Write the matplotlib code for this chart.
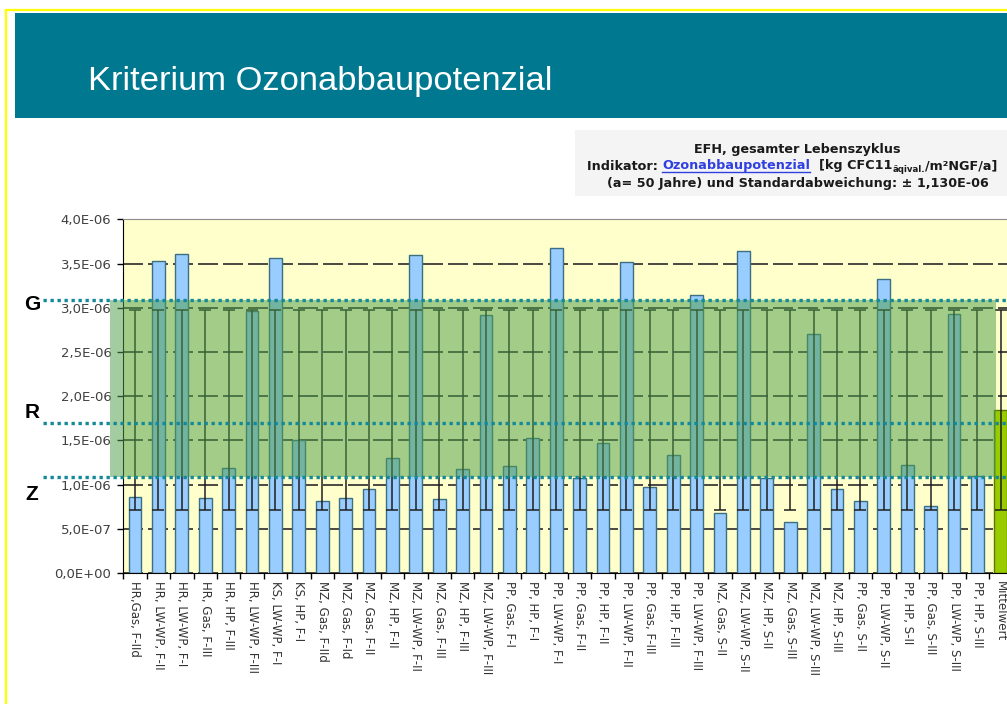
import matplotlib
matplotlib.use('Agg')
import matplotlib.pyplot as plt
import matplotlib.transforms as mtransforms
from matplotlib.patches import Rectangle
from matplotlib.lines import Line2D
from matplotlib.ticker import FuncFormatter, MultipleLocator

# Werte in 1E-06 kg CFC11-Äquivalent / m²NGF / a
categories = [
    "HR,Gas, F-IId", "HR, LW-WP, F-II", "HR, LW-WP, F-I", "HR, Gas, F-III",
    "HR, HP, F-III", "HR, LW-WP, F-III", "KS, LW-WP, F-I", "KS, HP, F-I",
    "MZ, Gas, F-IId", "MZ, Gas, F-Id", "MZ, Gas, F-II", "MZ, HP, F-II",
    "MZ, LW-WP, F-II", "MZ, Gas, F-III", "MZ, HP, F-III", "MZ, LW-WP, F-III",
    "PP, Gas, F-I", "PP, HP, F-I", "PP, LW-WP, F-I", "PP, Gas, F-II",
    "PP, HP, F-II", "PP, LW-WP, F-II", "PP, Gas, F-III", "PP, HP, F-III",
    "PP, LW-WP, F-III", "MZ, Gas, S-II", "MZ, LW-WP, S-II", "MZ, HP, S-II",
    "MZ, Gas, S-III", "MZ, LW-WP, S-III", "MZ, HP, S-III", "PP, Gas, S-II",
    "PP, LW-WP, S-II", "PP, HP, S-II", "PP, Gas, S-III", "PP, LW-WP, S-III",
    "PP, HP, S-III", "Mittelwert",
]
values = [
    0.86, 3.53, 3.61, 0.85, 1.19, 2.96, 3.56, 1.50,
    0.81, 0.85, 0.95, 1.30, 3.60, 0.84, 1.18, 2.92,
    1.21, 1.53, 3.68, 1.07, 1.47, 3.52, 0.97, 1.33,
    3.14, 0.68, 3.64, 1.07, 0.58, 2.70, 0.95, 0.81,
    3.32, 1.22, 0.76, 2.93, 1.10, 1.84,
]
std_dev = 1.13
# Grenzwerte der Bewertung (G, R, Z)
limit_names = ["G", "R", "Z"]
limit_values = [3.09, 1.70, 1.086]
SCALE = 1e-6

W, H = 1007, 704
fig = plt.figure(figsize=(W / 100, H / 100), dpi=100)
fig.patch.set_facecolor('white')


def fx(px):
    return px / W


def fy(py):
    return 1 - py / H


# slide frame + header
fig.add_artist(Rectangle((fx(15), fy(118)), fx(1007) - fx(15), fy(13) - fy(118),
                         transform=fig.transFigure, facecolor='#00788F',
                         edgecolor='none', zorder=0))
fig.add_artist(Line2D([fx(6), fx(6)], [fy(10), 0], transform=fig.transFigure,
                      color='#FFFF00', lw=1.6))
fig.add_artist(Line2D([fx(6), 1], [fy(10), fy(10)], transform=fig.transFigure,
                      color='#FFFF00', lw=1.6))
fig.text(fx(88), fy(90), "Kriterium Ozonabbaupotenzial", color='white',
         fontsize=24.8, family='Liberation Sans', va='baseline', ha='left')

# chart title box
fig.add_artist(Rectangle((fx(575), fy(196)), fx(1007) - fx(575), fy(130) - fy(196),
                         transform=fig.transFigure, facecolor='#F4F4F4',
                         edgecolor='none', zorder=0))
tsize = 9.2
tkw = dict(fontsize=tsize, fontweight='bold', color='#1a1a1a')
fig.text(fx(797), fy(152.5), "EFH, gesamter Lebenszyklus", ha='center',
         va='baseline', **tkw)
fig.text(fx(798), fy(187), "(a= 50 Jahre) und Standardabweichung: \u00b1 1,130E-06",
         ha='center', va='baseline', **tkw)

renderer = fig.canvas.get_renderer()
pieces = [
    ("Indikator: ", '#1a1a1a', tsize, 0),
    ("Ozonabbaupotenzial", '#2F3FE0', tsize, 0),
    ("  [kg CFC11", '#1a1a1a', tsize, 0),
    ("\u00e4qival.", '#1a1a1a', 6.2, 3),
    ("/m\u00b2NGF/a]", '#1a1a1a', tsize, 0),
]
xpos = 587
base = 169.5
for s, col, size, drop in pieces:
    t = fig.text(fx(xpos), fy(base + drop), s, color=col, fontsize=size,
                 fontweight='bold', ha='left', va='baseline')
    bb = t.get_window_extent(renderer)
    if s == "Ozonabbaupotenzial":
        fig.add_artist(Line2D([fx(xpos), fx(xpos + bb.width)],
                              [fy(base + 2), fy(base + 2)],
                              transform=fig.transFigure, color=col, lw=1))
    xpos += bb.width

# chart
n = len(categories)
cat_w = 23.4
ax = fig.add_axes([fx(123.3), fy(573), n * cat_w / W, (573 - 219.3) / H])
ax.set_facecolor('#FFFFCC')
x = list(range(n))
bar_colors = ['#99CCFF'] * (n - 1) + ['#99CC00']
edge_colors = ['#3D6F84'] * (n - 1) + ['#5C7A00']
ax.bar(x, [v * SCALE for v in values], width=0.55, color=bar_colors,
       edgecolor=edge_colors, linewidth=1.0, zorder=2)
mean_val = values[-1]
ax.errorbar(x, [mean_val * SCALE] * n, yerr=std_dev * SCALE, fmt='none',
            ecolor='#1f1f1f', elinewidth=1.1, capsize=4.5, capthick=1.1, zorder=3)

ax.set_xlim(-0.5, n - 0.5)
ax.set_ylim(0, 4.0e-6)
ax.yaxis.set_major_locator(MultipleLocator(0.5e-6))
ax.yaxis.set_major_formatter(FuncFormatter(lambda v, p: ('%.1E' % v).replace('.', ',')))
ax.grid(axis='y', color='#2a2a2a', lw=1.2, linestyle=(0, (12, 3)))
ax.set_axisbelow(True)

ax.set_xticks(x)
ax.set_xticklabels(categories, rotation=-90, fontsize=8.5, color='#333333',
                   va='top', ha='center')
ax.set_xticks([i - 0.5 for i in range(n + 1)], minor=True)
ax.tick_params(axis='x', which='major', length=0, pad=6)
ax.tick_params(axis='x', which='minor', length=4, width=1, color='black',
               direction='out')
ax.tick_params(axis='y', length=4, width=1, color='black', direction='out',
               labelsize=9.5, labelcolor='#404040', pad=4.5)
ax.spines['top'].set_color('#8a8a8a')
ax.spines['right'].set_visible(False)
ax.spines['left'].set_color('black')
ax.spines['bottom'].set_color('black')

# overlay of the rating band and the limit lines (slide annotation)
trans = mtransforms.blended_transform_factory(fig.transFigure, ax.transData)
g_val, r_val, z_val = limit_values
fig.add_artist(Rectangle((fx(110), z_val * SCALE), fx(996) - fx(110),
                         (g_val - z_val) * SCALE, transform=trans,
                         facecolor='#4F9E4A', alpha=0.52, edgecolor='none', zorder=4))
for v in limit_values:
    fig.add_artist(Line2D([fx(43), 1], [v * SCALE, v * SCALE], transform=trans,
                          color='#13899A', lw=2.4, linestyle=(0, (1, 1.1)), zorder=5))
for name, py in zip(limit_names, [305, 413, 494]):
    fig.text(fx(32), fy(py), name, fontsize=15, fontweight='bold',
             family='Liberation Sans', ha='center', va='center', color='black')

fig.savefig('out.png', dpi=100)
